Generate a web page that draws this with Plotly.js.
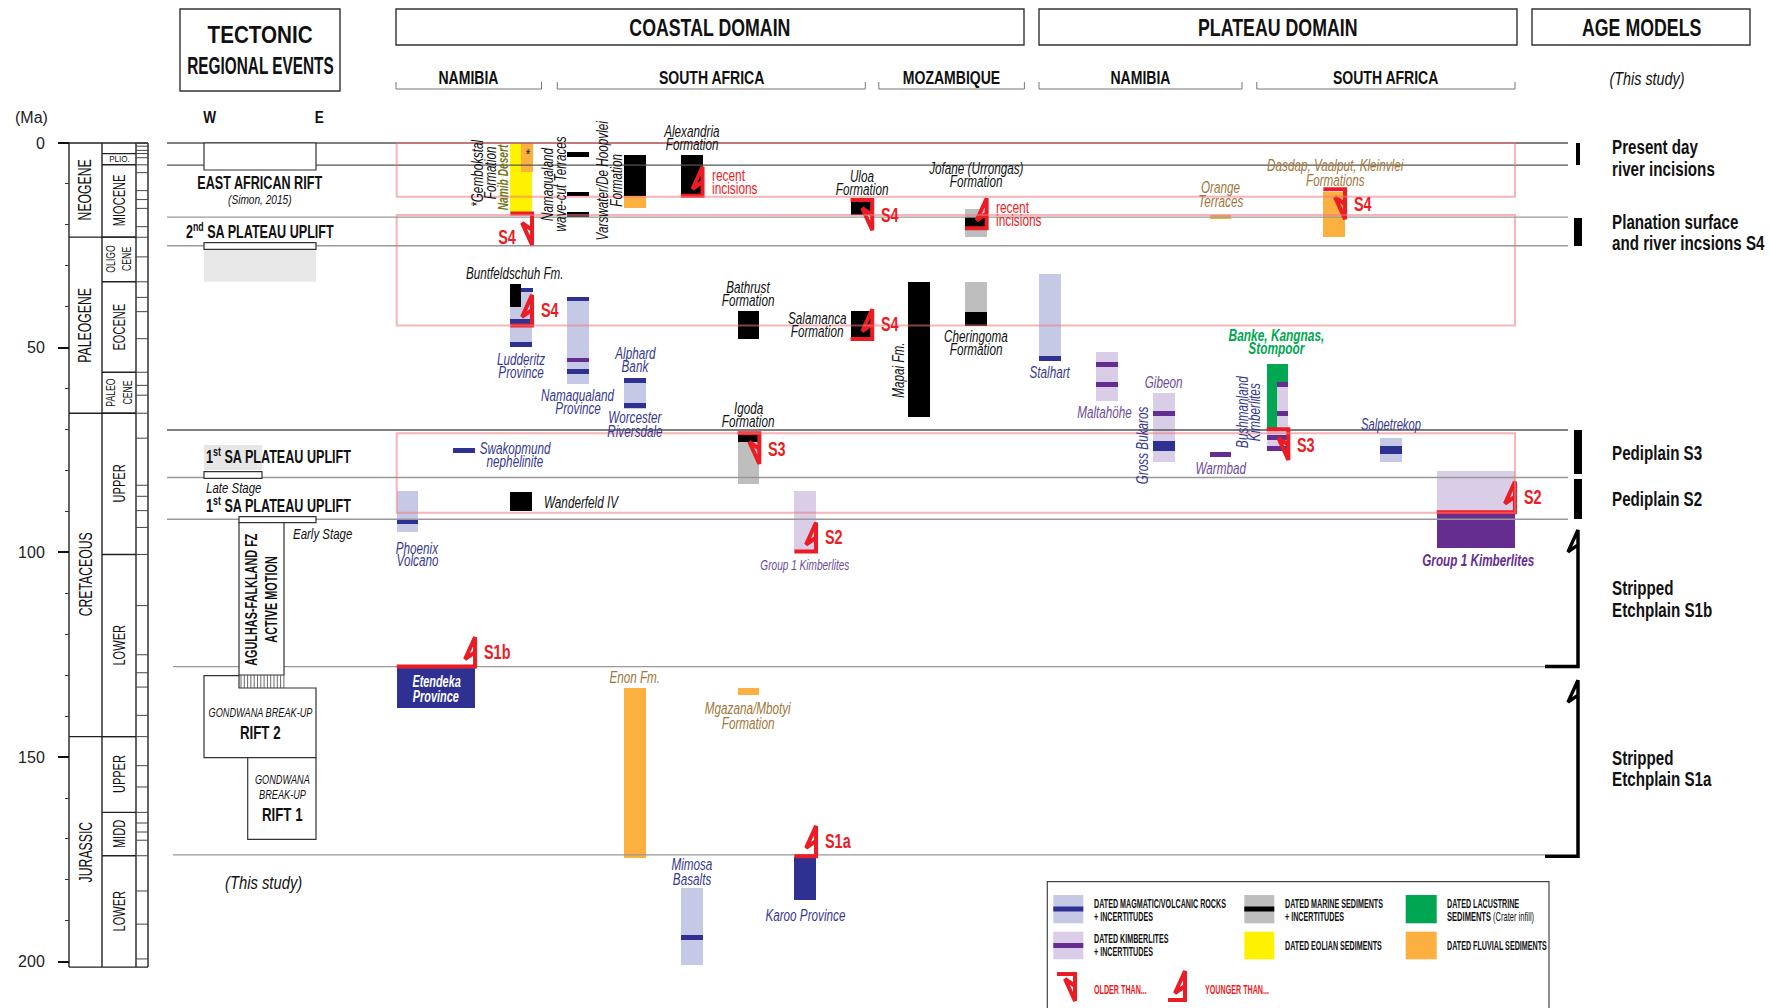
<!DOCTYPE html>
<html>
<head>
<meta charset="utf-8">
<script src="https://cdn.plot.ly/plotly-3.0.1.min.js"></script>
<style>body{margin:0;background:#fff}#chart{width:1769px;height:1008px}</style>
</head>
<body>
<div id="chart"></div>
<script>
const W = 1769, H = 1008;
const PX = 4.094, Y0 = 143;              // px per Ma, row of 0 Ma
const ma = p => (p - Y0) / PX;           // pixel row -> age on the chart scale
const NARROW = "Liberation Sans, Arial, sans-serif";
const SANS = "Liberation Sans, Arial, sans-serif";

// ---------- time scale ----------
const ageTicks = [0, 50, 100, 150, 200];
const minorTicks = [10, 20, 30, 40, 60, 70, 80, 90, 110, 120, 130, 140, 160, 170, 180, 190];
const periods = ["NEOGENE", "PALEOGENE", "CRETACEOUS", "JURASSIC"];
const periodTop = [0, 23, 66, 145];
const periodBase = [23, 66, 145, 201.3];
const epochs = ["", "PLIO.", "MIOCENE", "OLIGO<br>CENE", "EOCENE", "PALEO<br>CENE", "UPPER", "LOWER", "UPPER", "MIDD", "LOWER"];
const epochTop = [0, 2.6, 5.3, 23, 33.9, 56, 66, 100.5, 145, 163.5, 174.1];
const epochBase = [2.6, 5.3, 23, 33.9, 56, 66, 100.5, 145, 163.5, 174.1, 201.3];
const stageBounds = [0.0117, 0.126, 0.781, 1.8, 2.58, 3.6, 5.33, 7.25, 11.63, 13.82, 15.97, 20.44, 23.03, 27.82, 33.9, 37.71, 41.2, 47.8, 56, 59.2, 61.6, 66, 72.1, 83.6, 86.3, 89.8, 93.9, 100.5, 113, 125, 129.4, 132.9, 139.8, 145, 152.1, 157.3, 163.5, 166.1, 168.3, 170.3, 174.1, 182.7, 190.8, 199.3];

// surfaces
const surfaceLines = [0, 5.4, 18.1, 25.1, 70.1, 81.7, 91.9, 127.9, 173.9];
const boxTop = [0, 17.6, 70.9];
const boxBase = [13.1, 44.6, 90.3];

// ---------- dated units (Ma) ----------
const unitName = ["Namib Desert", "Gembokstal", "Namaqualand terrace", "Namaqualand terrace", "Namaqualand terrace",
  "Varswater", "Varswater", "Alexandria", "Uloa", "Jofane", "Jofane", "Orange Terraces", "Dasdap",
  "Buntfeldschuh", "Buntfeldschuh", "Namaqualand Province", "Alphard Bank", "Bathrust", "Salamanca", "Mapai",
  "Cheringoma", "Cheringoma", "Stalhart", "Maltahohe", "Gibeon", "Banke", "Banke", "Bushmanland",
  "Igoda", "Igoda", "Salpetrekop", "Wanderfeld IV", "Phoenix", "Group 1 coastal", "Group 1 plateau", "Group 1 plateau",
  "Etendeka", "Enon", "Mgazana", "Mimosa", "Karoo"];
const unitCol = ["B", "BR", "C", "C", "C", "D", "D", "E", "H", "J", "J", "N", "P",
  "B", "BL", "C", "D", "F", "H", "I", "J", "J", "K", "L", "M", "O", "OR", "O",
  "F", "F", "Q", "B", "A", "G", "R", "R", "WIDE", "D", "F", "E", "G"];
const unitKind = ["eolian", "fluvial", "marine", "marine", "marine", "marine", "fluvial", "marine", "marine", "marineUnc", "marine", "fluvial", "fluvial",
  "magUnc", "marine", "magUnc", "magUnc", "marine", "marine", "marine", "marineUnc", "marine", "magUnc", "kimUnc", "kimUnc", "lacustrine", "kimUnc", "kimUnc",
  "marineUnc", "marine", "magUnc", "marine", "magUnc", "kimUnc", "kimUnc", "kimberlite", "magmatic", "fluvial", "fluvial", "magUnc", "magmatic"];
const unitTop = [0, 0, 2.3, 12.0, 16.8, 2.9, 12.9, 2.9, 14.3, 16.0, 18.1, 17.6, 11.9,
  35.5, 34.5, 37.5, 57.5, 41.0, 41.0, 34.0, 34.0, 41.4, 32.0, 51.1, 61.1, 54.0, 58.7, 70.1,
  70.9, 70.9, 72.1, 85.3, 85.0, 85.0, 80.1, 90.0, 128.1, 133.0, 133.2, 182.0, 174.3];
const unitBase = [17.2, 7.0, 3.3, 13.0, 18.1, 12.9, 15.8, 12.7, 17.6, 22.9, 20.4, 18.6, 23.0,
  49.8, 40.1, 58.9, 65.0, 47.9, 47.7, 67.0, 44.7, 44.7, 53.0, 62.9, 78.0, 70.1, 70.1, 75.0,
  83.4, 73.1, 78.0, 89.8, 94.9, 99.4, 90.0, 98.9, 137.9, 174.7, 134.8, 200.8, 184.9];

// dated ages inside the uncertainty ranges
const datedCol = ["BR", "B", "B", "C", "C", "C", "D", "D", "K", "L", "L", "M", "M", "M", "N", "OR", "OR", "O", "O", "AB", "Q", "Q", "A", "E"];
const datedAge = [35.9, 43.6, 49.2, 38.1, 53.0, 55.8, 58.1, 64.2, 52.6, 54.0, 58.9, 66.0, 73.3, 74.6, 76.0, 58.9, 66.0, 71.9, 74.6, 75.2, 74.6, 75.4, 92.5, 194.0];
const datedKind = ["magmatic", "magmatic", "magmatic", "magmatic", "kimberlite", "magmatic", "magmatic", "magmatic", "magmatic", "kimberlite", "kimberlite", "kimberlite", "magmatic", "magmatic", "kimberlite", "kimberlite", "kimberlite", "kimberlite", "kimberlite", "magmatic", "magmatic", "magmatic", "magmatic", "magmatic"];

// older-than / younger-than constraints
const markKind = ["older", "younger", "younger", "older", "younger", "younger", "older", "older", "older", "younger", "younger", "younger", "younger"];
const markCol = ["B", "E", "B", "H", "J", "H", "P", "F", "O", "G", "R", "WIDE", "G"];
const markAge = [17.2, 12.9, 44.6, 13.9, 20.8, 47.9, 11.3, 70.9, 69.9, 99.8, 90.2, 127.9, 174.2];
const markTip = [24.9, 5.8, 37.1, 21.3, 13.5, 40.6, 18.6, 78.4, 77.4, 92.7, 82.7, 120.7, 166.8];
const markLabel = ["", "recent|incisions", "S4", "S4", "recent|incisions", "S4", "S4", "S3", "S3", "S2", "S2", "S1b", "S1a"];

// age models
const modelLabel = ["Present day|river incisions", "Planation surface|and river incsions S4", "Pediplain S3", "Pediplain S2", "Stripped|Etchplain S1b", "Stripped|Etchplain S1a"];
const modelTop = [0, 18.4, 70.1, 82.0, 94.5, 131.2];
const modelBase = [5.3, 25.1, 80.9, 91.9, 127.9, 174.2];

// ---------- layout helpers ----------
const colX = {A: 407.5, AB: 464.2, B: 521.2, BL: 515.6, BR: 526.9, C: 577.8, D: 635, E: 691.7, F: 748.5, G: 805.2,
  H: 861.4, I: 919.2, J: 975.8, K: 1050, L: 1106.8, M: 1164.2, N: 1220.5, O: 1277.5, OR: 1282.9,
  P: 1334.2, Q: 1390.8, R: 1475.8, WIDE: 435.9};
const colW = {BL: 11.2, BR: 11.4, OR: 11, R: 78.3, WIDE: 78.3};
const wOf = c => colW[c] || 21.7;

const kindColor = {magUnc: "#c6c9e6", kimUnc: "#d9cde7", marineUnc: "#bebebe", marine: "#000000",
  eolian: "#fff200", fluvial: "#fbb040", lacustrine: "#00a651", magmatic: "#2e3192", kimberlite: "#662d91"};
const RED = "#ec1c24", BLUE = "#36398f", PURPLE = "#6b4c9a", BROWN = "#a0763a";

// annotations; sx = horizontal squeeze to mimic the condensed face of the original
const ann = [], annSx = [];
function txt(text, x, y, o = {}) {
  ann.push({text, x, y, xref: "x", yref: "y", showarrow: false,
    xanchor: o.anchor || "center", yanchor: "middle", textangle: o.angle || 0,
    font: {family: o.family || NARROW, size: o.size || 15, color: o.color || "#111",
      style: o.italic ? "italic" : "normal", weight: o.bold ? 700 : 400}});
  annSx.push(o.sx === undefined ? (o.family === SANS ? 1 : 0.78) : o.sx);
}
function lab(lines, x, yPx, gap, o) {
  lines.forEach((t, i) => txt(t, x, ma(yPx + i * gap), o));
}
const shp = [];
function box(x0, y0, x1, y1, o = {}) {
  shp.push({type: "rect", xref: "x", yref: "y", x0, x1, y0: ma(y0), y1: ma(y1),
    line: {color: o.line || "#333", width: o.lw === undefined ? 1.2 : o.lw}, fillcolor: o.fill || "#fff", layer: "above"});
}
function poly(pts, o = {}) {
  const d = pts.map((p, i) => (i ? "L" : "M") + p[0] + "," + ma(p[1])).join(" ") + (o.close ? " Z" : "");
  shp.push({type: "path", xref: "x", yref: "y", path: d, line: {color: o.line || "#333", width: o.lw || 1.2},
    fillcolor: o.fill || "rgba(0,0,0,0)", layer: "above"});
}
function hook(xs, ys, x0, x1, age, tip) {
  const dir = tip > age ? 1 : -1;
  xs.push(x0, x1, x1, x1 - 10, x1, null);
  ys.push(age, age, tip, tip - dir * 22 / PX, tip - dir * 15 / PX, null);
}

const traces = [];

// horizontal surface lines
const darkX = [], darkY = [], greyX = [], greyY = [];
surfaceLines.forEach((a, i) => {
  const x0 = a > 100 ? 173 : 167, x1 = a > 100 ? 1545 : 1568;
  const dark = i < 2 || i === 4;
  (dark ? darkX : greyX).push(x0, x1, null);
  (dark ? darkY : greyY).push(a, a, null);
});
traces.push({type: "scatter", mode: "lines", x: darkX, y: darkY, line: {color: "#555", width: 1.3}, hoverinfo: "skip"});
traces.push({type: "scatter", mode: "lines", x: greyX, y: greyY, line: {color: "#999", width: 1.3}, hoverinfo: "skip"});

// stratigraphic column
const sx = [], sy = [];
[69, 102, 136, 148].forEach(x => { sx.push(x, x, null); sy.push(0, 201.3, null); });
sx.push(69, 148, null, 69, 148, null); sy.push(0, 0, null, 201.3, 201.3, null);
periodTop.slice(1).forEach(a => { sx.push(69, 136, null); sy.push(a, a, null); });
epochTop.slice(1).forEach(a => { sx.push(102, 136, null); sy.push(a, a, null); });
traces.push({type: "scatter", mode: "lines", x: sx, y: sy, line: {color: "#222", width: 1.4}, hoverinfo: "skip"});
const tx = [], ty = [];
stageBounds.forEach(a => { tx.push(136, 148, null); ty.push(a, a, null); });
traces.push({type: "scatter", mode: "lines", x: tx, y: ty, line: {color: "#444", width: 1}, hoverinfo: "skip"});

// dated units
traces.push({type: "bar", orientation: "v", x: unitCol.map(c => colX[c]), base: unitTop,
  y: unitBase.map((b, i) => b - unitTop[i]), width: unitCol.map(wOf),
  marker: {color: unitKind.map(k => kindColor[k]), line: {width: 0}}, hoverinfo: "skip"});
// dated ages
traces.push({type: "bar", orientation: "v", x: datedCol.map(c => colX[c]), base: datedAge.map(a => a - 0.6),
  y: datedAge.map(() => 1.2), width: datedCol.map(wOf),
  marker: {color: datedKind.map(k => kindColor[k]), line: {width: 0}}, hoverinfo: "skip"});

// age-model bars
traces.push({type: "bar", orientation: "v", x: modelTop.slice(0, 4).map(() => 1578), base: modelTop.slice(0, 4),
  y: modelTop.slice(0, 4).map((t, i) => modelBase[i] - t), width: [4, 8, 8, 8],
  marker: {color: "#000", line: {width: 0}}, hoverinfo: "skip"});
const bx = [], by = [];
[4, 5].forEach(i => hook(bx, by, 1545, 1578, modelBase[i], modelTop[i]));
traces.push({type: "scatter", mode: "lines", x: bx, y: by, line: {color: "#000", width: 3.5}, hoverinfo: "skip"});

// constraint markers
const mx = [], my = [];
markKind.forEach((k, i) => {
  const c = markCol[i], x0 = colX[c] - wOf(c) / 2, x1 = colX[c] + wOf(c) / 2;
  hook(mx, my, x0, x1, markAge[i], markTip[i]);
  if (!markLabel[i]) return;
  const parts = markLabel[i].split("|"), mid = (markAge[i] + markTip[i]) / 2;
  if (parts.length === 1) txt(parts[0], x1 + 7, mid, {anchor: "left", color: RED, bold: true, size: 19.5, sx: 0.74});
  else parts.forEach((p, j) => txt(p, x1 + 7, mid + (j - 0.5) * 12.6 / PX, {anchor: "left", color: RED, size: 16.5, sx: 0.72}));
});
txt("S4", 518, ma(236.7), {anchor: "right", color: RED, bold: true, size: 19.5, sx: 0.74});
// legend symbols
hook(mx, my, 1057, 1075, ma(974), ma(1001));
hook(mx, my, 1168, 1185, ma(1000), ma(971));
traces.push({type: "scatter", mode: "lines", x: mx, y: my, line: {color: RED, width: 4}, hoverinfo: "skip"});

// pink surface boxes
boxTop.forEach((t, i) => shp.push({type: "rect", xref: "x", yref: "y", x0: 396.7, x1: 1515, y0: t, y1: boxBase[i],
  line: {color: "rgba(240,120,125,0.55)", width: 2}, layer: "above"}));

// ---------- time scale labels ----------
txt("(Ma)", 31, ma(117), {family: SANS, size: 16, color: "#222"});
periods.forEach((p, i) => txt(p, 85.5, (periodTop[i] + periodBase[i]) / 2, {angle: -90, size: 17.5, sx: 0.7}));
epochs.forEach((e, i) => {
  if (!e) return;
  if (e === "PLIO.") { txt(e, 119, (epochTop[i] + epochBase[i]) / 2, {size: 9, sx: 0.9}); return; }
  txt(e, 119, (epochTop[i] + epochBase[i]) / 2, {angle: -90, size: e.includes("<br>") ? 13 : 16.5, sx: 0.67});
});

// ---------- headers ----------
box(180, 9, 340, 91, {lw: 1.4});
txt("TECTONIC", 260, ma(34), {bold: true, size: 24, sx: 0.86});
txt("REGIONAL EVENTS", 260, ma(65), {bold: true, size: 24, sx: 0.64});
[[396, 1024, "COASTAL DOMAIN"], [1039, 1517, "PLATEAU DOMAIN"], [1532, 1750, "AGE MODELS"]].forEach(h => {
  box(h[0], 9, h[1], 45, {lw: 1.4});
  txt(h[2], (h[0] + h[1]) / 2, ma(27.5), {bold: true, size: 24, sx: 0.74});
});
[[396, 541.5, "NAMIBIA"], [557.3, 865.3, "SOUTH AFRICA"], [878.8, 1024.4, "MOZAMBIQUE"],
 [1039, 1242, "NAMIBIA"], [1256.8, 1515, "SOUTH AFRICA"]].forEach(h => {
  poly([[h[0], 82], [h[0], 89], [h[1], 89], [h[1], 82]], {line: "#777", lw: 1});
  txt(h[2], (h[0] + h[1]) / 2, ma(78), {bold: true, size: 18, sx: 0.78});
});
txt("(This study)", 1647, ma(79), {italic: true, size: 18, sx: 0.8});
txt("W", 210, ma(117), {bold: true, size: 16, sx: 0.85});
txt("E", 319, ma(117), {bold: true, size: 16, sx: 0.85});

// ---------- tectonic events ----------
const TB = {bold: true, size: 17.5, sx: 0.72};
box(204, 143, 316, 170);
txt("EAST AFRICAN RIFT", 260, ma(183), TB);
txt("(Simon, 2015)", 260, ma(199), {italic: true, size: 13, sx: 0.78});
txt("2<sup>nd</sup> SA PLATEAU UPLIFT", 260, ma(231), TB);
box(204, 249.3, 316, 281.7, {lw: 0, fill: "#e8e8e8"});
box(204, 242.7, 316, 249.3);
box(204, 445, 262, 470, {lw: 0, fill: "#e6e6e6"});
txt("1<sup>st</sup> SA PLATEAU UPLIFT", 204, ma(456), Object.assign({anchor: "left"}, TB));
box(204, 471.7, 262, 478.3);
txt("Late Stage", 204, ma(487), {anchor: "left", italic: true, size: 15.5, sx: 0.74});
txt("1<sup>st</sup> SA PLATEAU UPLIFT", 204, ma(505), Object.assign({anchor: "left"}, TB));
box(239, 516.7, 316, 522.7);
txt("Early Stage", 291, ma(533), {anchor: "left", italic: true, size: 15.5, sx: 0.74});
box(239, 522.7, 284, 675);
txt("AGULHAS-FALKLAND FZ", 251, ma(600), {angle: -90, bold: true, size: 16, sx: 0.68});
txt("ACTIVE MOTION", 271, ma(600), {angle: -90, bold: true, size: 16, sx: 0.68});
for (let x = 241; x < 284; x += 3.3) poly([[x, 675], [x, 688]], {line: "#444", lw: 0.8});
poly([[204, 675.7], [239, 675.7], [239, 688], [316, 688], [316, 757.7], [204, 757.7]], {close: true, fill: "#fff"});
txt("GONDWANA BREAK-UP", 260, ma(712), {italic: true, size: 13.5, sx: 0.68});
txt("RIFT 2", 260, ma(732), {bold: true, size: 18.5, sx: 0.72});
box(247.7, 757.7, 316, 839.3);
lab(["GONDWANA", "BREAK-UP"], 282, 779, 15, {italic: true, size: 13.5, sx: 0.68});
txt("RIFT 1", 282, ma(814), {bold: true, size: 18.5, sx: 0.72});
txt("(This study)", 263, ma(882), {italic: true, size: 19, sx: 0.78});

// ---------- unit labels ----------
const K = {italic: true, size: 16.5, color: "#111", sx: 0.71};
const Bl = {italic: true, size: 16.5, color: BLUE, sx: 0.71};
const Pu = {italic: true, size: 16.5, color: PURPLE, sx: 0.71};
const Br = {italic: true, size: 16.5, color: BROWN, sx: 0.71};
lab(["Alexandria", "Formation"], 691.7, 131, 12.8, K);
lab(["Bathrust", "Formation"], 748.3, 287.3, 12.9, K);
lab(["Salamanca", "Formation"], 817, 318.3, 12.9, K);
lab(["Igoda", "Formation"], 748.3, 408.3, 12.9, K);
lab(["Uloa", "Formation"], 861.7, 176, 13.3, K);
lab(["Jofane (Urrongas)", "Formation"], 976, 167.7, 13.3, K);
lab(["Cheringoma", "Formation"], 976, 336, 12.6, K);
lab(["Buntfeldschuh Fm."], 515, 272.7, 0, K);
txt("Wanderfeld IV", 542.3, ma(501.7), Object.assign({anchor: "left"}, K));
lab(["Orange", "Terraces"], 1220.7, 187.3, 13.7, Br);
lab(["Dasdap, Vaalput, Kleinvlei", "Formations"], 1335, 165, 15, Br);
lab(["Enon Fm."], 635, 676.7, 0, Br);
lab(["Mgazana/Mbotyi", "Formation"], 748.3, 707.7, 15.6, Br);
lab(["Ludderitz", "Province"], 521, 359.3, 12.6, Bl);
lab(["Namaqualand", "Province"], 578.3, 395, 13.3, Bl);
lab(["Alphard", "Bank"], 635, 352.7, 13, Bl);
lab(["Worcester", "Riversdale"], 635, 417.3, 13.4, Bl);
lab(["Swakopmund", "nephelinite"], 515, 447.7, 13.3, Bl);
lab(["Phoenix", "Volcano"], 417, 547.7, 12.6, Bl);
lab(["Stalhart"], 1050, 371.7, 0, Bl);
lab(["Salpetrekop"], 1390.7, 424, 0, Object.assign({}, Bl, {sx: 0.68}));
lab(["Mimosa", "Basalts"], 691.7, 864.3, 15, Bl);
lab(["Karoo Province"], 805, 915, 0, Bl);
lab(["Maltahöhe"], 1104, 411.7, 0, Pu);
lab(["Gibeon"], 1163.3, 381.7, 0, Pu);
lab(["Warmbad"], 1220.7, 468.3, 0, Pu);
lab(["Group 1 Kimberlites"], 805, 565, 0, {italic: true, size: 14, color: PURPLE, sx: 0.72});
lab(["Group 1 Kimberlites"], 1478.3, 560.7, 0, {italic: true, bold: true, size: 17, color: "#662d91", sx: 0.69});
lab(["Banke, Kangnas,", "Stompoor"], 1276.7, 335, 13.6, {italic: true, bold: true, size: 17, color: "#00a651", sx: 0.7});
lab(["Etendeka", "Province"], 436, 681, 15.7, {italic: true, bold: true, size: 16, color: "#fff", sx: 0.68});
txt("*", 527.7, ma(153), {size: 15});
txt("*Gembokstal", 476.7, ma(173), Object.assign({angle: -90}, K));
txt("Formation", 490, ma(173), Object.assign({angle: -90}, K));
txt("Namib Desert", 502, ma(177), {angle: -90, italic: true, bold: true, size: 15, color: "#76761a", sx: 0.68});
txt("Namaqualand", 547, ma(184), Object.assign({angle: -90}, K));
txt("wave-cut Terraces", 560, ma(184), Object.assign({angle: -90}, K));
txt("Varswater/De Hoopvlei", 602, ma(181), Object.assign({angle: -90}, K));
txt("Formation", 616.5, ma(181), Object.assign({angle: -90}, K));
txt("Mapai Fm.", 898, ma(370), Object.assign({angle: -90}, K));
txt("Gross Bukaros", 1142, ma(446), Object.assign({angle: -90}, Bl));
txt("Bushmanland", 1241.7, ma(412), Object.assign({angle: -90}, Bl));
txt("Kimberlites", 1254, ma(412), Object.assign({angle: -90}, Bl));

// age model labels
modelLabel.forEach((l, i) => {
  const parts = l.split("|"), mid = (modelTop[i] + modelBase[i]) / 2 + (i === 0 ? 0.9 : 0);
  parts.forEach((p, j) => txt(p, 1610, mid + (j - (parts.length - 1) / 2) * 21.5 / PX,
    {anchor: "left", bold: true, size: 20.5, sx: 0.74}));
});

// ---------- legend ----------
poly([[1047.3, 1012], [1047.3, 881.7], [1549, 881.7], [1549, 1012]], {line: "#444", lw: 1.2});
box(1053.3, 895, 1083.3, 923.3, {lw: 0, fill: kindColor.magUnc});
box(1053.3, 906.5, 1083.3, 911.5, {lw: 0, fill: kindColor.magmatic});
box(1053.3, 931.7, 1083.3, 959.3, {lw: 0, fill: kindColor.kimUnc});
box(1053.3, 943, 1083.3, 948, {lw: 0, fill: kindColor.kimberlite});
box(1244.3, 895, 1274.3, 923.3, {lw: 0, fill: kindColor.marineUnc});
box(1244.3, 906.5, 1274.3, 911.5, {lw: 0, fill: "#000"});
box(1244.3, 931.7, 1274.3, 959.3, {lw: 0, fill: kindColor.eolian});
box(1405.7, 895, 1436.7, 923.3, {lw: 0, fill: kindColor.lacustrine});
box(1405.7, 931.7, 1436.7, 959.3, {lw: 0, fill: kindColor.fluvial});
const LG = {anchor: "left", bold: true, size: 13, sx: 0.55};
lab(["DATED MAGMATIC/VOLCANIC ROCKS", "+ INCERTITUDES"], 1092.3, 903.3, 13.4, LG);
lab(["DATED KIMBERLITES", "+ INCERTITUDES"], 1092.3, 938.3, 12.7, LG);
lab(["DATED MARINE SEDIMENTS", "+ INCERTITUDES"], 1283.3, 903.3, 13.4, LG);
lab(["DATED EOLIAN SEDIMENTS"], 1283.3, 945, 0, LG);
lab(["DATED LACUSTRINE"], 1445, 903.3, 0, LG);
txt("<b>SEDIMENTS</b> (Crater infill)", 1445, ma(916.7), {anchor: "left", size: 13, sx: 0.58});
lab(["DATED FLUVIAL SEDIMENTS"], 1445, 945, 0, LG);
lab(["OLDER THAN..."], 1092.3, 989, 0, Object.assign({}, LG, {color: RED}));
lab(["YOUNGER THAN..."], 1203.3, 989, 0, Object.assign({}, LG, {color: RED}));

const layout = {
  width: W, height: H, margin: {l: 0, r: 0, t: 0, b: 0},
  paper_bgcolor: "#fff", plot_bgcolor: "#fff", showlegend: false,
  barmode: "overlay", bargap: 0,
  xaxis: {range: [0, W], visible: false, fixedrange: true},
  yaxis: {range: [ma(H), ma(0)], anchor: "free", position: 69 / W, fixedrange: true,
    tickmode: "array", tickvals: ageTicks, ticks: "outside", ticklen: 11, tickwidth: 2, tickcolor: "#111",
    ticklabelstandoff: 10, showgrid: false, zeroline: false, showline: false,
    tickfont: {family: SANS, size: 16, color: "#222"},
    minor: {tickmode: "array", tickvals: minorTicks, ticks: "outside", ticklen: 4, tickwidth: 1, tickcolor: "#333", showgrid: false}},
  shapes: shp, annotations: ann
};

// squeeze annotation text horizontally around its anchor (no condensed face installed)
function condense(gd) {
  gd.querySelectorAll("g.annotation").forEach(g => {
    const i = +g.getAttribute("data-index"), k = annSx[i];
    const t = g.querySelector("text.annotation-text");
    if (!t || !k || k === 1) return;
    const bb = t.getBBox(), a = ann[i];
    const ax = a.xanchor === "left" ? bb.x : a.xanchor === "right" ? bb.x + bb.width : bb.x + bb.width / 2;
    const prev = t.getAttribute("transform") || "";
    t.setAttribute("transform", prev + " translate(" + ax + ",0) scale(" + k + ",1) translate(" + (-ax) + ",0)");
  });
}
Plotly.newPlot("chart", traces, layout, {staticPlot: true}).then(condense);
</script>
</body>
</html>
